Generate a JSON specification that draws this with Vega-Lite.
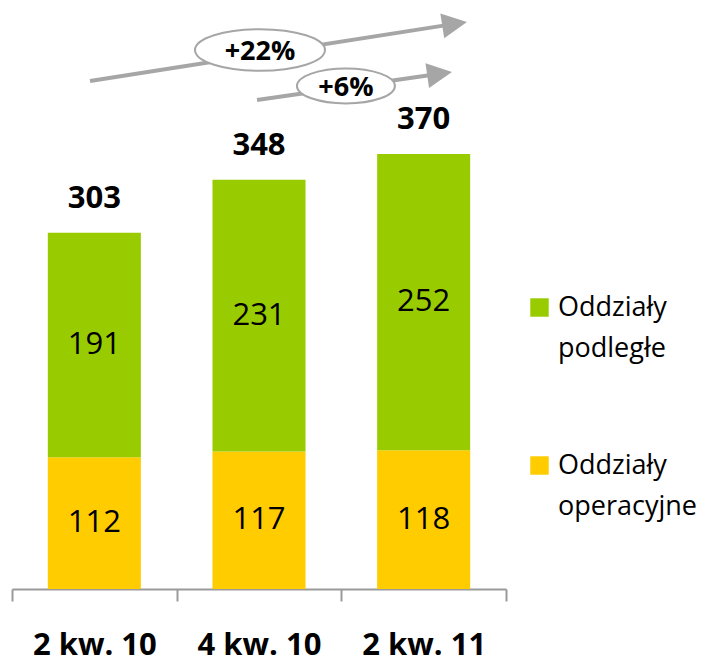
{
  "$schema": "https://vega.github.io/schema/vega-lite/v6.json",
  "width": 494,
  "height": 589,
  "autosize": {"type": "none"},
  "padding": {"left": 12, "top": 0, "right": 203, "bottom": 73},
  "background": "white",
  "config": {"view": {"stroke": null}, "font": "Open Sans"},
  "datasets": {
    "branches": [
      {"q": "2 kw. 10", "seg": "Oddziały operacyjne", "ord": 1, "v": 112},
      {"q": "2 kw. 10", "seg": "Oddziały podległe", "ord": 2, "v": 191},
      {"q": "4 kw. 10", "seg": "Oddziały operacyjne", "ord": 1, "v": 117},
      {"q": "4 kw. 10", "seg": "Oddziały podległe", "ord": 2, "v": 231},
      {"q": "2 kw. 11", "seg": "Oddziały operacyjne", "ord": 1, "v": 118},
      {"q": "2 kw. 11", "seg": "Oddziały podległe", "ord": 2, "v": 252}
    ]
  },
  "layer": [
    {
      "data": {"name": "branches"},
      "layer": [
        {
          "mark": {"type": "bar", "width": {"band": 0.565}},
          "encoding": {
            "x": {"field": "q", "type": "ordinal", "sort": null,
              "scale": {"paddingInner": 0, "paddingOuter": 0},
              "axis": {"title": null, "labelAngle": 0, "tickBand": "extent", "domainColor": "#9a9a9a", "domainWidth": 2, "tickColor": "#9a9a9a", "tickWidth": 2, "tickSize": 12, "labelFont": "Open Sans", "labelFontWeight": "bold", "labelFontSize": 31, "labelColor": "black", "labelPadding": 29, "labelBaseline": "top"}},
            "y": {"field": "v", "type": "quantitative", "stack": "zero", "scale": {"domain": [0, 501], "nice": false, "zero": true}, "axis": null},
            "color": {"field": "seg", "type": "nominal",
              "scale": {"domain": ["Oddziały podległe", "Oddziały operacyjne"], "range": ["#99CC00", "#FFCC00"]},
              "legend": {"orient": "none", "legendX": 514, "legendY": 294, "title": null, "symbolType": "square", "symbolSize": 340, "symbolStrokeWidth": 0, "labelFont": "Open Sans", "labelFontSize": 27, "labelColor": "black", "labelOffset": 5, "labelLimit": 0, "rowPadding": 89, "padding": 0, "labelExpr": "split(datum.label, ' ')",
                "encode": {"labels": {"update": {"lineHeight": {"value": 41}}}}}},
            "order": {"field": "ord", "type": "quantitative"}
          }
        },
        {
          "transform": [
            {"stack": "v", "groupby": ["q"], "sort": [{"field": "ord", "order": "ascending"}], "as": ["v0", "v1"]},
            {"calculate": "(datum.v0 + datum.v1) / 2", "as": "mid"}
          ],
          "mark": {"type": "text", "font": "Open Sans", "fontSize": 31, "color": "black", "baseline": "middle"},
          "encoding": {
            "x": {"field": "q", "type": "ordinal", "sort": null},
            "y": {"field": "mid", "type": "quantitative"},
            "text": {"field": "v", "type": "quantitative"}
          }
        },
        {
          "mark": {"type": "text", "font": "Open Sans", "fontSize": 31, "fontWeight": "bold", "color": "black", "baseline": "alphabetic", "dy": -25},
          "encoding": {
            "x": {"field": "q", "type": "ordinal", "sort": null},
            "y": {"aggregate": "sum", "field": "v", "type": "quantitative"},
            "text": {"aggregate": "sum", "field": "v", "type": "quantitative"}
          }
        }
      ]
    },
    {
      "data": {"values": [{}]},
      "layer": [
        {
          "mark": {"type": "rule", "color": "#A6A6A6", "strokeWidth": 4},
          "encoding": {
            "x": {"datum": 0.474, "type": "quantitative", "scale": {"domain": [0, 3], "nice": false, "zero": false}, "axis": null},
            "y": {"datum": 432.1, "type": "quantitative"},
            "x2": {"datum": 2.688},
            "y2": {"datum": 480.7}
          }
        },
        {
          "mark": {"type": "rule", "color": "#A6A6A6", "strokeWidth": 4},
          "encoding": {
            "x": {"datum": 1.488, "type": "quantitative"},
            "y": {"datum": 416.0, "type": "quantitative"},
            "x2": {"datum": 2.597},
            "y2": {"datum": 438.2}
          }
        },
        {
          "mark": {"type": "point", "shape": "M1,0L-1,-1L-1,1Z", "size": 625, "filled": true, "color": "#A6A6A6", "opacity": 1, "angle": -8.9},
          "encoding": {
            "x": {"datum": 2.688, "type": "quantitative"},
            "y": {"datum": 480.7, "type": "quantitative"}
          }
        },
        {
          "mark": {"type": "point", "shape": "M1,0L-1,-1L-1,1Z", "size": 625, "filled": true, "color": "#A6A6A6", "opacity": 1, "angle": -8.2},
          "encoding": {
            "x": {"datum": 2.597, "type": "quantitative"},
            "y": {"datum": 438.2, "type": "quantitative"}
          }
        },
        {
          "mark": {"type": "point", "shape": "M-1,0A1,0.32 0 1,1 1,0A1,0.32 0 1,1 -1,0Z", "size": 16900, "filled": true, "fill": "white", "stroke": "#A6A6A6", "strokeWidth": 2, "opacity": 1},
          "encoding": {
            "x": {"datum": 1.506, "type": "quantitative"},
            "y": {"datum": 458.5, "type": "quantitative"}
          }
        },
        {
          "mark": {"type": "point", "shape": "M-1,0A1,0.357 0 1,1 1,0A1,0.357 0 1,1 -1,0Z", "size": 9604, "filled": true, "fill": "white", "stroke": "#A6A6A6", "strokeWidth": 2, "opacity": 1},
          "encoding": {
            "x": {"datum": 2.028, "type": "quantitative"},
            "y": {"datum": 427.9, "type": "quantitative"}
          }
        },
        {
          "mark": {"type": "text", "font": "Open Sans", "fontSize": 27, "fontWeight": "bold", "color": "black", "baseline": "middle"},
          "encoding": {
            "x": {"datum": 1.506, "type": "quantitative"},
            "y": {"datum": 457.1, "type": "quantitative"},
            "text": {"value": "+22%"}
          }
        },
        {
          "mark": {"type": "text", "font": "Open Sans", "fontSize": 27, "fontWeight": "bold", "color": "black", "baseline": "middle"},
          "encoding": {
            "x": {"datum": 2.028, "type": "quantitative"},
            "y": {"datum": 426.2, "type": "quantitative"},
            "text": {"value": "+6%"}
          }
        }
      ]
    }
  ],
  "resolve": {"scale": {"x": "independent"}}
}
